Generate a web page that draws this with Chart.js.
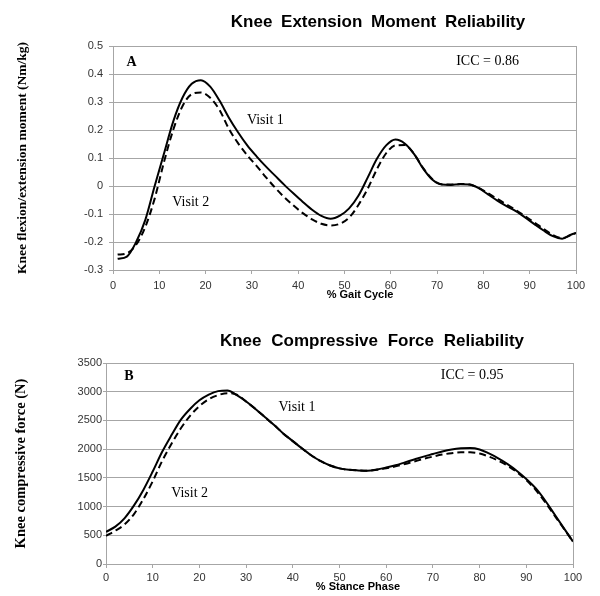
<!DOCTYPE html>
<html>
<head>
<meta charset="utf-8">
<title>Knee moment and force reliability</title>
<script src="https://cdn.jsdelivr.net/npm/chart.js@4.4.0/dist/chart.umd.min.js"></script>
<style>
  html, body { margin: 0; padding: 0; background: #fff; }
  .wrap { position: relative; width: 600px; height: 596px; }
  canvas { position: absolute; left: 0; }
  #momentChart { top: 0; }
  #forceChart { top: 302px; }
</style>
</head>
<body>
<div class="wrap">
  <canvas id="momentChart" width="600" height="302"></canvas>
  <canvas id="forceChart" width="600" height="294"></canvas>
</div>
<script>
// --- data ---
const gaitPct = [1, 3, 5, 7, 9, 11, 13, 15, 17, 19, 21, 23, 25, 27, 29, 31, 33, 35, 37, 39,
  41, 43, 45, 47, 49, 51, 53, 55, 57, 59, 61, 63, 65, 67, 69, 71, 73, 75, 77, 79,
  81, 83, 85, 87, 89, 91, 93, 95, 97, 99, 100];
const momentVisit1 = [-0.26, -0.252, -0.2, -0.12, 0.0, 0.115, 0.23, 0.315, 0.365, 0.378,
  0.355, 0.305, 0.245, 0.192, 0.145, 0.106, 0.07, 0.037, 0.004, -0.027,
  -0.057, -0.085, -0.107, -0.117, -0.106, -0.08, -0.035, 0.03, 0.097, 0.145,
  0.166, 0.152, 0.115, 0.062, 0.022, 0.005, 0.004, 0.006, 0.005, -0.008,
  -0.03, -0.052, -0.072, -0.09, -0.112, -0.136, -0.159, -0.179, -0.188, -0.173, -0.168];
const momentVisit2 = [-0.245, -0.24, -0.21, -0.145, -0.045, 0.085, 0.2, 0.285, 0.328, 0.334,
  0.315, 0.272, 0.205, 0.153, 0.11, 0.072, 0.032, -0.006, -0.04, -0.07,
  -0.097, -0.119, -0.135, -0.141, -0.135, -0.113, -0.068, -0.01, 0.06, 0.117,
  0.145, 0.146, 0.115, 0.064, 0.024, 0.006, 0.005, 0.007, 0.005, -0.007,
  -0.026, -0.046, -0.066, -0.086, -0.108, -0.13, -0.153, -0.175, -0.186, -0.174, -0.168];

const stancePct = [0, 2, 4, 6, 8, 10, 12, 14, 16, 18, 20, 22, 24, 26, 28, 30, 32, 34, 36, 38,
  40, 42, 44, 46, 48, 50, 52, 54, 56, 58, 60, 62, 64, 66, 68, 70, 72, 74, 76, 78,
  80, 82, 84, 86, 88, 90, 92, 94, 96, 98, 100];
const forceVisit1 = [560, 650, 800, 1020, 1290, 1610, 1950, 2240, 2510, 2700,
  2850, 2950, 3010, 3020, 2940, 2830, 2700, 2560, 2420, 2270,
  2140, 2010, 1890, 1790, 1715, 1665, 1640, 1630, 1625, 1645,
  1680, 1720, 1770, 1820, 1870, 1915, 1960, 1995, 2015, 2020,
  1995, 1925, 1840, 1740, 1620, 1480, 1320, 1110, 870, 630, 390];
const forceVisit2 = [490, 580, 690, 870, 1130, 1440, 1790, 2090, 2360, 2580,
  2750, 2870, 2940, 2975, 2950, 2830, 2700, 2560, 2420, 2270,
  2140, 2010, 1890, 1790, 1715, 1665, 1640, 1630, 1625, 1640,
  1665, 1700, 1740, 1785, 1830, 1870, 1905, 1930, 1945, 1945,
  1925, 1870, 1800, 1710, 1600, 1460, 1290, 1080, 850, 620, 390];

// annotation text, anchored in data units
const momentNotes = [
  { text: "A", x: 4.0, y: 0.44, bold: true },
  { text: "ICC = 0.86", x: 80.9, y: 0.447 },
  { text: "Visit 1", x: 32.9, y: 0.235 },
  { text: "Visit 2", x: 16.8, y: -0.058 }
];
const forceNotes = [
  { text: "B", x: 4.9, y: 3274, bold: true },
  { text: "ICC = 0.95", x: 78.4, y: 3291 },
  { text: "Visit 1", x: 40.9, y: 2728 },
  { text: "Visit 2", x: 17.9, y: 1231 }
];

const SANS = "'Liberation Sans', Arial, sans-serif";
const SERIF = "'Liberation Serif', 'Times New Roman', serif";
const GRID = "#a6a6a6";

// headings, x captions, frame edge and in-plot notes
const overlayText = {
  id: "overlayText",
  afterDraw(chart, args, opts) {
    const { ctx, chartArea, scales } = chart;
    ctx.save();
    ctx.strokeStyle = GRID;
    ctx.lineWidth = 1;
    ctx.beginPath();
    ctx.moveTo(Math.round(chartArea.right) + 0.5, chartArea.top);
    ctx.lineTo(Math.round(chartArea.right) + 0.5, chartArea.bottom);
    ctx.stroke();

    ctx.fillStyle = "#000";
    ctx.textAlign = "center";
    ctx.textBaseline = "middle";
    opts.captions.forEach(c => {
      ctx.font = c.font;
      if ("wordSpacing" in ctx) ctx.wordSpacing = c.wordSpacing || "0px";
      ctx.fillText(c.text, c.x, c.y);
    });
    if ("wordSpacing" in ctx) ctx.wordSpacing = "0px";

    opts.notes.forEach(n => {
      ctx.font = (n.bold ? "bold " : "") + "14px " + SERIF;
      ctx.fillText(n.text, scales.x.getPixelForValue(n.x), scales.y.getPixelForValue(n.y));
    });
    ctx.restore();
  }
};

function toPoints(xs, ys) {
  return xs.map((x, i) => ({ x: x, y: ys[i] }));
}

function makeChart(canvas, o) {
  return new Chart(canvas, {
    type: "line",
    data: {
      datasets: [
        { label: "Visit 2", data: toPoints(o.xs, o.visit2), borderColor: "#000",
          borderWidth: 2, borderDash: [7, 4], pointRadius: 0, cubicInterpolationMode: "monotone" },
        { label: "Visit 1", data: toPoints(o.xs, o.visit1), borderColor: "#000",
          borderWidth: 2, pointRadius: 0, cubicInterpolationMode: "monotone" }
      ]
    },
    options: {
      responsive: false,
      animation: false,
      layout: { padding: o.padding },
      plugins: {
        legend: { display: false },
        tooltip: { enabled: false },
        overlayText: { captions: o.captions, notes: o.notes }
      },
      scales: {
        x: {
          type: "linear",
          min: 0, max: 100,
          afterFit: s => { s.height = o.xHeight; },
          ticks: { stepSize: 10, padding: o.xTickPad, color: "#333",
                   font: { family: SANS, size: 11 }, maxRotation: 0 },
          grid: { drawOnChartArea: false, drawTicks: true, tickLength: 4, color: GRID },
          border: { color: GRID }
        },
        y: {
          min: o.yMin, max: o.yMax,
          afterFit: s => { s.width = o.yWidth; },
          ticks: { stepSize: o.yStep, padding: o.yTickPad, color: "#333",
                   font: { family: SANS, size: 11 }, callback: o.yFormat },
          grid: { color: GRID, tickLength: o.yTickLen },
          border: { color: GRID },
          title: { display: true, text: o.yTitle, color: "#000",
                   font: { family: SERIF, size: o.yTitleSize, weight: "bold" },
                   padding: { top: o.yTitlePad, bottom: 0 } }
        }
      }
    },
    plugins: [overlayText]
  });
}

makeChart(document.getElementById("momentChart"), {
  xs: gaitPct, visit1: momentVisit1, visit2: momentVisit2,
  padding: { top: 46, left: 0, right: 24, bottom: 0 },
  xHeight: 32, xTickPad: 5,
  yMin: -0.3, yMax: 0.5, yStep: 0.1, yWidth: 113, yTickPad: 6, yTickLen: 4,
  yFormat: v => String(Math.round(v * 10) / 10),
  yTitle: "Knee flexion/extension moment (Nm/kg)", yTitleSize: 13.5, yTitlePad: 14,
  captions: [
    { text: "Knee Extension Moment Reliability", x: 378, y: 22,
      font: "bold 17px " + SANS, wordSpacing: "4px" },
    { text: "% Gait Cycle", x: 360, y: 295, font: "bold 11px " + SANS }
  ],
  notes: momentNotes
});

makeChart(document.getElementById("forceChart"), {
  xs: stancePct, visit1: forceVisit1, visit2: forceVisit2,
  padding: { top: 61, left: 0, right: 27, bottom: 2 },
  xHeight: 30, xTickPad: 3,
  yMin: 0, yMax: 3500, yStep: 500, yWidth: 106, yTickPad: 1, yTickLen: 3,
  yFormat: v => String(v),
  yTitle: "Knee compressive force (N)", yTitleSize: 14.5, yTitlePad: 13,
  captions: [
    { text: "Knee Compressive Force Reliability", x: 372, y: 39,
      font: "bold 17px " + SANS, wordSpacing: "5px" },
    { text: "% Stance Phase", x: 358, y: 285, font: "bold 11px " + SANS }
  ],
  notes: forceNotes
});
</script>
</body>
</html>
